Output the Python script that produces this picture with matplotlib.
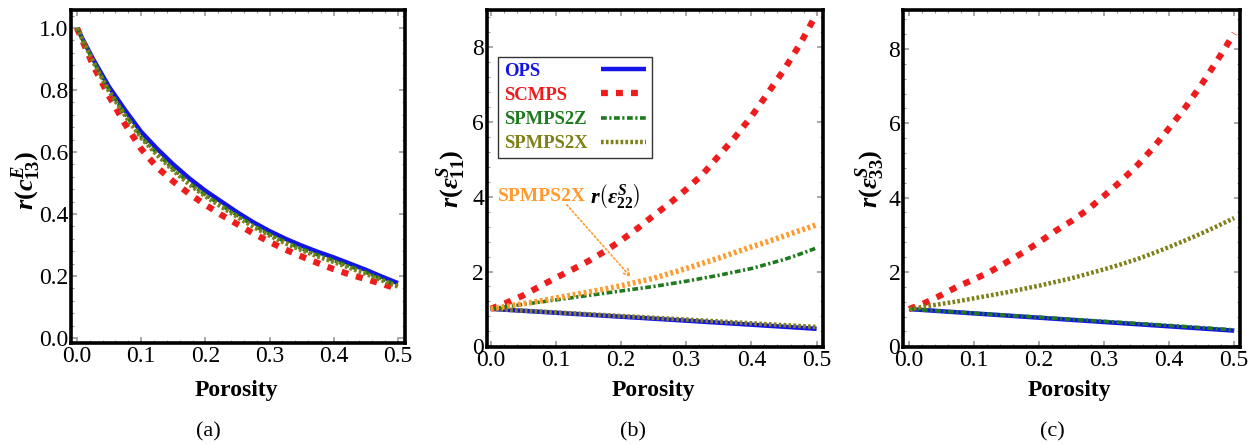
import matplotlib
matplotlib.use('Agg')
import matplotlib.pyplot as plt
from matplotlib.ticker import MultipleLocator, FormatStrFormatter

plt.rcParams['font.family'] = ['Liberation Serif', 'DejaVu Serif']
plt.rcParams['mathtext.fontset'] = 'custom'
plt.rcParams['mathtext.rm'] = 'Liberation Serif:bold'
plt.rcParams['mathtext.it'] = 'Liberation Serif:italic:bold'
plt.rcParams['mathtext.bf'] = 'Liberation Serif:bold'

# porosity samples
porosity = [0.0, 0.025, 0.05, 0.075, 0.1, 0.125, 0.15, 0.175, 0.2, 0.225, 0.25,
            0.275, 0.3, 0.325, 0.35, 0.375, 0.4, 0.425, 0.45, 0.475, 0.5]

# (a) r(c13)
a_ops = [1.0, 0.9, 0.81, 0.735, 0.665, 0.61, 0.56, 0.515, 0.475, 0.44, 0.405,
         0.373, 0.345, 0.32, 0.298, 0.278, 0.26, 0.24, 0.22, 0.198, 0.177]
a_scmps = [1.0, 0.88, 0.78, 0.69, 0.61, 0.55, 0.505, 0.465, 0.43, 0.397, 0.367,
           0.337, 0.31, 0.285, 0.263, 0.242, 0.222, 0.205, 0.19, 0.175, 0.158]
a_spmps2z = [1.0, 0.895, 0.8, 0.722, 0.65, 0.595, 0.545, 0.5, 0.462, 0.428, 0.395,
             0.363, 0.335, 0.31, 0.288, 0.268, 0.25, 0.231, 0.212, 0.19, 0.17]
a_spmps2x = [1.0, 0.892, 0.795, 0.717, 0.645, 0.59, 0.54, 0.495, 0.457, 0.423, 0.39,
             0.358, 0.33, 0.305, 0.283, 0.263, 0.245, 0.226, 0.207, 0.186, 0.166]

# (b) r(eps11)
b_ops = [1.0, 0.974, 0.948, 0.922, 0.896, 0.869, 0.843, 0.817, 0.79, 0.764, 0.737,
         0.711, 0.684, 0.657, 0.63, 0.603, 0.576, 0.548, 0.521, 0.494, 0.467]
b_scmps = [1.0, 1.17, 1.36, 1.6, 1.83, 2.05, 2.28, 2.54, 2.83, 3.15, 3.5,
           3.83, 4.2, 4.6, 5.1, 5.6, 6.15, 6.77, 7.4, 8.1, 8.9]
b_spmps2z = [1.0, 1.06, 1.12, 1.18, 1.24, 1.3, 1.36, 1.42, 1.48, 1.54, 1.6,
             1.67, 1.74, 1.82, 1.9, 1.99, 2.08, 2.2, 2.32, 2.47, 2.63]
b_spmps2x = [1.0, 0.977, 0.953, 0.93, 0.906, 0.882, 0.858, 0.834, 0.81, 0.786, 0.762,
             0.738, 0.714, 0.689, 0.665, 0.64, 0.615, 0.59, 0.565, 0.54, 0.515]
b_spmps2x_22 = [1.0, 1.07, 1.14, 1.21, 1.29, 1.37, 1.45, 1.53, 1.62, 1.72, 1.82,
                1.95, 2.08, 2.22, 2.36, 2.51, 2.66, 2.8, 2.95, 3.1, 3.25]

# (c) r(eps33)
c_ops = [1.0, 0.971, 0.942, 0.913, 0.884, 0.855, 0.826, 0.797, 0.768, 0.739, 0.71,
         0.681, 0.652, 0.623, 0.594, 0.565, 0.536, 0.507, 0.478, 0.449, 0.42]
c_scmps = [1.0, 1.17, 1.38, 1.61, 1.8, 2.01, 2.26, 2.52, 2.8, 3.1, 3.37,
           3.68, 4.05, 4.43, 4.85, 5.33, 5.87, 6.43, 7.05, 7.72, 8.42]
c_spmps2z = [1.0, 0.973, 0.945, 0.918, 0.89, 0.863, 0.835, 0.808, 0.78, 0.753, 0.725,
             0.698, 0.67, 0.643, 0.615, 0.588, 0.56, 0.53, 0.5, 0.47, 0.44]
c_spmps2x = [1.0, 1.07, 1.14, 1.21, 1.29, 1.37, 1.45, 1.54, 1.63, 1.73, 1.83,
             1.95, 2.07, 2.2, 2.34, 2.5, 2.67, 2.85, 3.04, 3.24, 3.45]

labels = ['OPS', 'SCMPS', 'SPMPS2Z', 'SPMPS2X']
colors = ['#1414e6', '#ee1c1c', '#1f7a1f', '#80801a']
orange = '#ff9a2e'


def draw_series(ax, ops, scmps, z, x):
    ax.plot(porosity, ops, color=colors[0], lw=3.2, label=labels[0], solid_capstyle='butt')
    ax.plot(porosity, scmps, color=colors[1], lw=4.5, dashes=(1.1, 1.3), label=labels[1])
    ax.plot(porosity, z, color=colors[2], lw=2.6, dashes=(1.6, 0.7, 0.6, 0.7), label=labels[2])
    ax.plot(porosity, x, color=colors[3], lw=3.2, dashes=(0.6, 0.5), label=labels[3])


def style(ax, xlim, ylim, ystep, yfmt):
    ax.set_xlim(*xlim)
    ax.set_ylim(*ylim)
    ax.xaxis.set_major_locator(MultipleLocator(0.1))
    ax.xaxis.set_major_formatter(FormatStrFormatter('%.1f'))
    ax.xaxis.set_minor_locator(MultipleLocator(0.02))
    ax.yaxis.set_major_locator(MultipleLocator(ystep))
    ax.yaxis.set_major_formatter(FormatStrFormatter(yfmt))
    ax.yaxis.set_minor_locator(MultipleLocator(ystep / 5))
    ax.tick_params(which='both', direction='in', top=True, right=True, color='#9a9a9a')
    ax.tick_params(which='major', length=4, width=1.2, labelsize=17, pad=2)
    ax.tick_params(which='minor', length=2, width=0.8)
    for s in ax.spines.values():
        s.set_linewidth(2.6)
        s.set_color('black')
    ax.set_xlabel('Porosity', fontsize=17, fontweight='bold')


fig = plt.figure(figsize=(12.48, 4.44), dpi=100)
ax1 = fig.add_axes([0.0569, 0.2275, 0.2676, 0.75])
ax2 = fig.add_axes([0.3902, 0.2185, 0.2692, 0.759])
ax3 = fig.add_axes([0.7236, 0.2185, 0.27, 0.759])

draw_series(ax1, a_ops, a_scmps, a_spmps2z, a_spmps2x)
style(ax1, (-0.0093, 0.511), (-0.016, 1.058), 0.2, '%.1f')
ax1.set_ylabel(r'$r(c^{E}_{\mathit{13}})$', fontsize=19)

ax2.plot(porosity, b_ops, color=colors[0], lw=3.2, label=labels[0], solid_capstyle='butt')
ax2.plot(porosity, b_spmps2x, color=colors[3], lw=3.2, dashes=(0.6, 0.5), label=labels[3])
ax2.plot(porosity, b_scmps, color=colors[1], lw=4.5, dashes=(1.1, 1.3), label=labels[1])
ax2.plot(porosity, b_spmps2z, color=colors[2], lw=2.6, dashes=(1.6, 0.7, 0.6, 0.7), label=labels[2])
ax2.plot(porosity, b_spmps2x_22, color=orange, lw=4, dashes=(0.5, 0.5))
style(ax2, (-0.0057, 0.5097), (-0.02, 9.0), 2, '%d')
ax2.set_ylabel(r'$r(\varepsilon^{S}_{\mathit{11}})$', fontsize=19)

# legend: text left, line right
handles, lbls = ax2.get_legend_handles_labels()
order = [lbls.index(l) for l in labels]
leg = ax2.legend([handles[i] for i in order], labels, loc='upper left',
                 bbox_to_anchor=(0.033, 0.861), borderaxespad=0, markerfirst=False,
                 prop={'weight': 'bold', 'size': 13.5}, handlelength=2.4, handletextpad=0.75,
                 labelspacing=0.38, fancybox=False, edgecolor='#333333', framealpha=1,
                 borderpad=0.3)
leg.get_frame().set_linewidth(1.0)
for t, c in zip(leg.get_texts(), colors):
    t.set_color(c)

# annotation for SPMPS2X r(eps22)
t1 = ax2.text(0.011, 4.0, 'SPMPS2X', color=orange, fontsize=14, fontweight='bold', va='center')
ax2.annotate(r'$r\left(\varepsilon^{S}_{\mathit{22}}\right)$', xy=(1, 0.5), xycoords=t1,
             xytext=(3, 0), textcoords='offset points', va='center', fontsize=16)
ax2.annotate('', xy=(0.218, 1.79), xytext=(0.114, 3.84),
             arrowprops=dict(arrowstyle='->', color=orange, lw=1.2, linestyle=(0, (1, 1.5)),
                             mutation_scale=12))

draw_series(ax3, c_ops, c_scmps, c_spmps2z, c_spmps2x)
style(ax3, (-0.0092, 0.509), (-0.02, 9.05), 2, '%d')
ax3.set_ylabel(r'$r(\varepsilon^{S}_{\mathit{33}})$', fontsize=19)

ax1.yaxis.set_label_coords(-0.084, 0.49)
ax2.yaxis.set_label_coords(-0.057, 0.5)
ax3.yaxis.set_label_coords(-0.047, 0.5)
ax1.xaxis.set_label_coords(0.494, -0.111)
ax2.xaxis.set_label_coords(0.494, -0.098)
ax3.xaxis.set_label_coords(0.494, -0.098)

fig.text(208 / 1248, 1 - 432 / 444, '(a)', fontsize=16, ha='center', va='center')
fig.text(633 / 1248, 1 - 432 / 444, '(b)', fontsize=16, ha='center', va='center')
fig.text(1052 / 1248, 1 - 432 / 444, '(c)', fontsize=16, ha='center', va='center')

# align legend texts to the left, handles to the right
fig.canvas.draw()
r = fig.canvas.get_renderer()
col = leg._legend_handle_box.get_children()[0]
col.align = 'left'
rows = col.get_children()
widths = [row.get_children()[0].get_window_extent(r).width for row in rows]
for row, w in zip(rows, widths):
    row.sep += (max(widths) - w) * 72.0 / fig.dpi

fig.savefig('out.png', dpi=100)
